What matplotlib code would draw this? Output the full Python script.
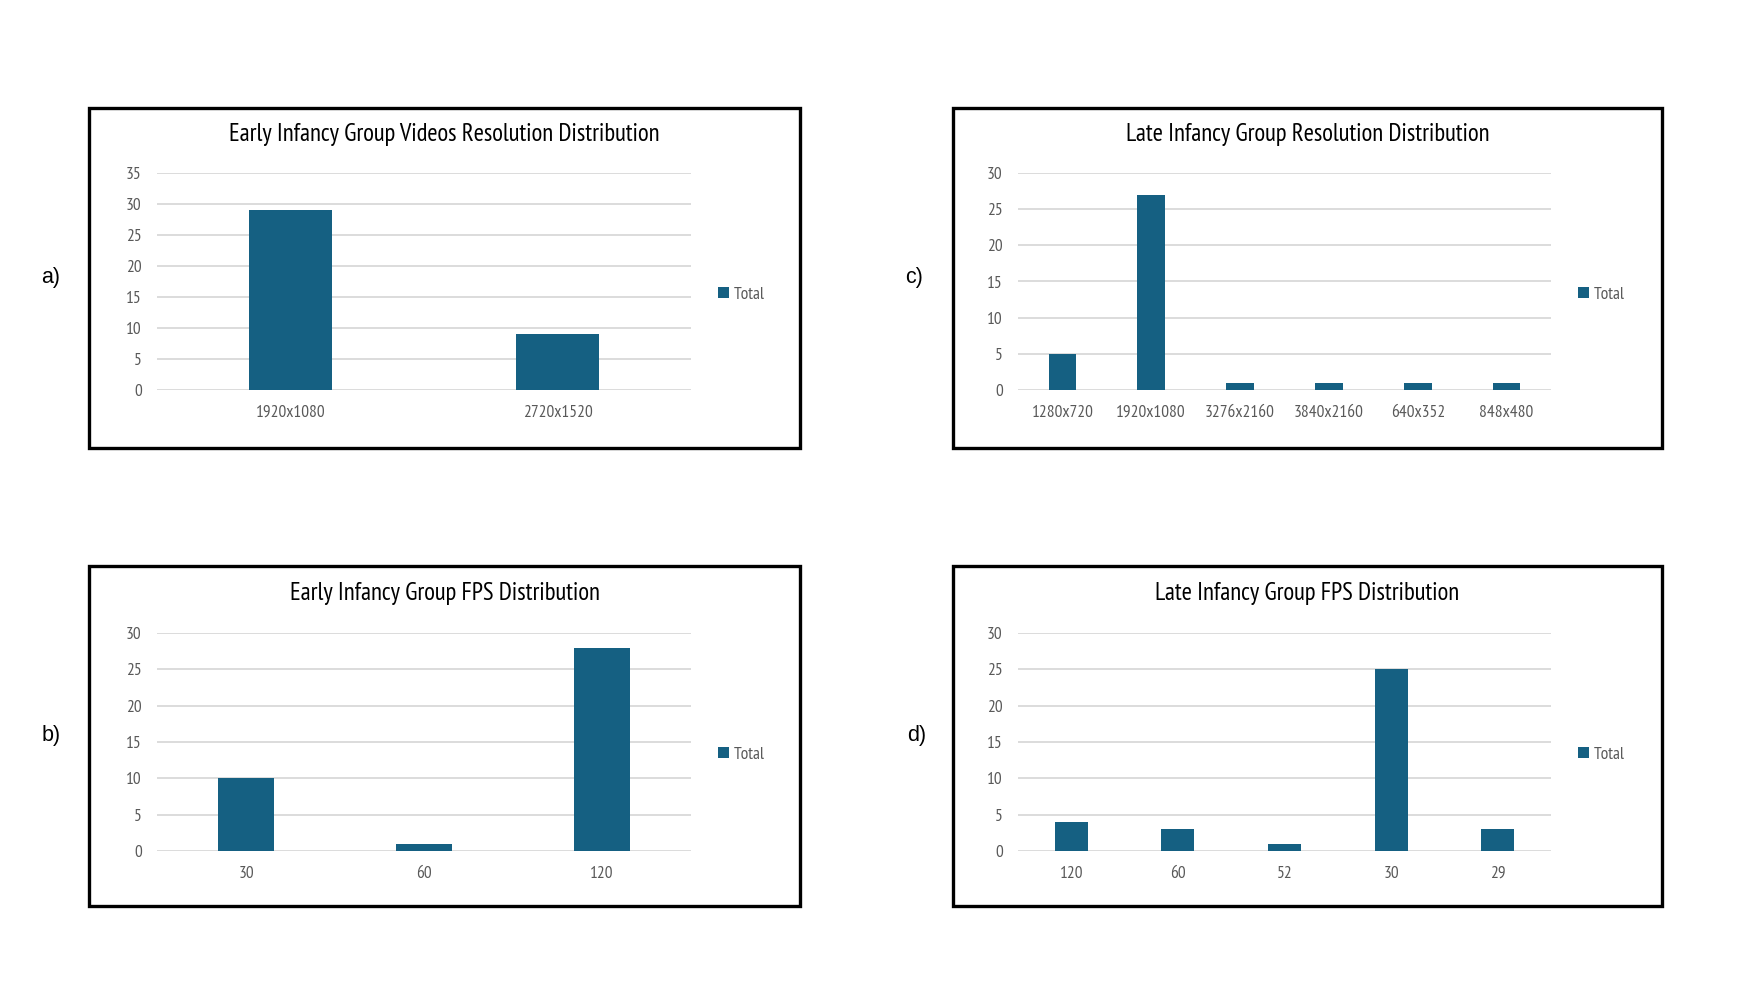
import matplotlib
matplotlib.use("Agg")
import matplotlib.pyplot as plt
from matplotlib import font_manager
from matplotlib.patches import Rectangle

# ---- data ----
early_res_labels = ["1920x1080", "2720x1520"]
early_res_values = [29, 9]

late_res_labels = ["1280x720", "1920x1080", "3276x2160", "3840x2160", "640x352", "848x480"]
late_res_values = [5, 27, 1, 1, 1, 1]

early_fps_labels = ["30", "60", "120"]
early_fps_values = [10, 1, 28]

late_fps_labels = ["120", "60", "52", "30", "29"]
late_fps_values = [4, 3, 1, 25, 3]

titles = [
    "Early Infancy Group Videos Resolution Distribution",
    "Early Infancy Group FPS Distribution",
    "Late Infancy Group Resolution Distribution",
    "Late Infancy Group FPS Distribution",
]
panel_tags = ["a)", "b)", "c)", "d)"]

W, H = 1741, 1005
BAR = "#156082"
GRID = "#d9d9d9"
TICK = "#595959"

have = {f.name for f in font_manager.fontManager.ttflist}
narrow = [f for f in ["Liberation Sans Narrow", "PT Sans Narrow", "Roboto Condensed"] if f in have] + ["DejaVu Sans"]
plain = ["Liberation Sans", "DejaVu Sans"]


def fx(px):
    return px / W


def fy(py):
    return 1 - py / H


fig = plt.figure(figsize=(W / 100, H / 100), dpi=100)

# (box left, box right, box top, box bottom, plot left, plot right, plot top, plot bottom)
layouts = [
    (89, 800, 108, 448, 157, 691, 173, 390),
    (89, 800, 566, 906, 157, 691, 633, 851),
    (953, 1662, 108, 448, 1018, 1551, 173, 390),
    (953, 1662, 566, 906, 1018, 1551, 633, 851),
]
panels = [
    (early_res_labels, early_res_values, 35),
    (early_fps_labels, early_fps_values, 30),
    (late_res_labels, late_res_values, 30),
    (late_fps_labels, late_fps_values, 30),
]
tag_pos = [(51, 277), (51, 735), (914, 277), (917, 735)]

for i, ((labels, values, ymax), lay) in enumerate(zip(panels, layouts)):
    bl, br, bt, bb, pl, pr, pt, pb = lay

    # outer black frame
    fig.patches.append(Rectangle((fx(bl), fy(bb)), fx(br - bl), (bb - bt) / H,
                                 transform=fig.transFigure, fill=False,
                                 edgecolor="black", linewidth=2.4, zorder=5))

    ax = fig.add_axes([fx(pl), fy(pb), fx(pr - pl), (pb - pt) / H])
    x = list(range(len(labels)))
    ax.bar(x, values, width=0.31, color=BAR, label="Total", zorder=3)
    ax.set_xlim(-0.5, len(labels) - 0.5)
    ax.set_ylim(0, ymax)
    ax.set_yticks(range(0, ymax + 1, 5))
    ax.set_xticks(x)
    ax.set_xticklabels(labels)
    ax.grid(axis="y", color=GRID, linewidth=1.3, zorder=0)
    ax.set_axisbelow(True)
    for s in ax.spines.values():
        s.set_visible(False)
    ax.tick_params(length=0, colors=TICK, labelsize=12.5)
    ax.tick_params(axis="y", pad=11)
    ax.tick_params(axis="x", pad=10.5)
    for t in ax.get_xticklabels() + ax.get_yticklabels():
        t.set_family(narrow)

    leg = ax.legend(loc="center left", bbox_to_anchor=(1.035, 0.44), frameon=False,
                    handlelength=0.6, handleheight=0.6, handletextpad=0.3,
                    borderpad=0, prop={"family": narrow, "size": 12.5})
    for t in leg.get_texts():
        t.set_color(TICK)

    fig.text(fx((bl + br) / 2), fy(bt + 27), titles[i], ha="center", va="center",
             fontsize=17.8, family=narrow, color="black")

    tx, ty = tag_pos[i]
    fig.text(fx(tx), fy(ty), panel_tags[i], ha="center", va="center",
             fontsize=15.5, family=plain, color="black")

fig.savefig("out.png", dpi=100)
